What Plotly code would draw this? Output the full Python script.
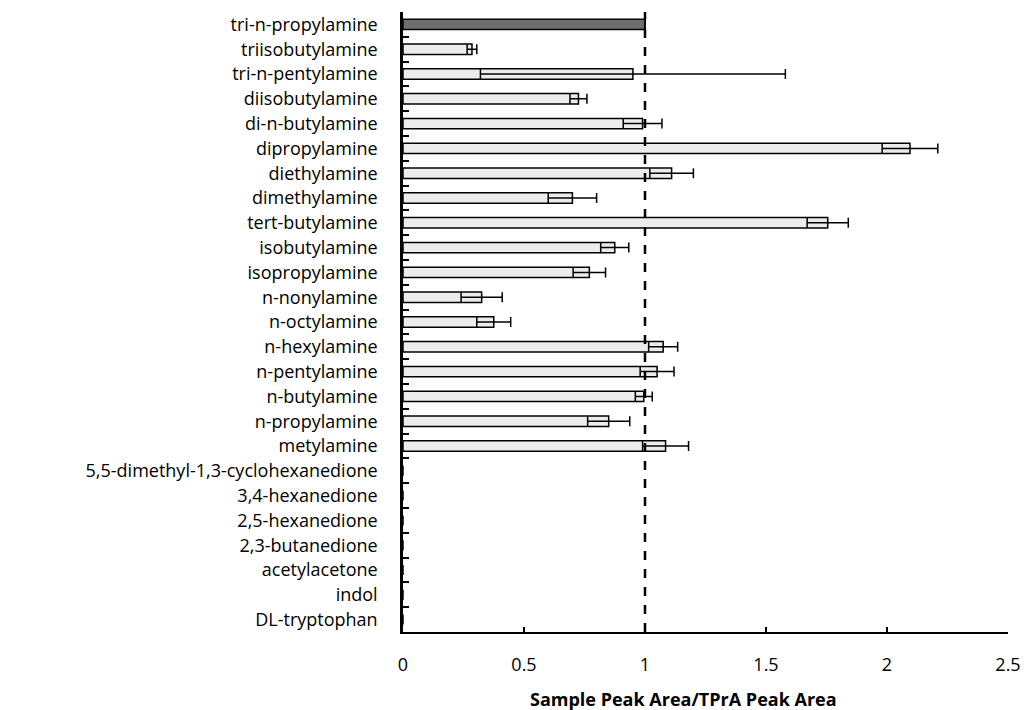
import plotly.graph_objects as go

# Compounds, listed top to bottom
compounds = [
    "tri-n-propylamine", "triisobutylamine", "tri-n-pentylamine", "diisobutylamine",
    "di-n-butylamine", "dipropylamine", "diethylamine", "dimethylamine",
    "tert-butylamine", "isobutylamine", "isopropylamine", "n-nonylamine",
    "n-octylamine", "n-hexylamine", "n-pentylamine", "n-butylamine",
    "n-propylamine", "metylamine", "5,5-dimethyl-1,3-cyclohexanedione",
    "3,4-hexanedione", "2,5-hexanedione", "2,3-butanedione", "acetylacetone",
    "indol", "DL-tryptophan",
]

# Relative peak area (sample / TPrA) and its error
ratio = [
    1.00, 0.285, 0.95, 0.725,
    0.99, 2.095, 1.11, 0.70,
    1.755, 0.875, 0.77, 0.325,
    0.375, 1.075, 1.05, 0.995,
    0.85, 1.085, 0, 0, 0, 0, 0, 0, 0,
]
error = [
    0.0, 0.02, 0.63, 0.035,
    0.08, 0.115, 0.09, 0.10,
    0.085, 0.058, 0.067, 0.085,
    0.07, 0.06, 0.07, 0.035,
    0.087, 0.095, 0, 0, 0, 0, 0, 0, 0,
]

x_ticks = [0, 0.5, 1, 1.5, 2, 2.5]
x_tick_text = ["0", "0.5", "1", "1.5", "2", "2.5"]

# Reference compound (TPrA) shown darker; no outline or whiskers where there is no signal
fills = ["#6e6e6e"] + ["#ececec"] * (len(compounds) - 1)
outline_w = [1.5 if v > 0 else 0 for v in ratio]
err_shown = [e if e > 0 else None for e in error]

fig = go.Figure()
fig.add_trace(go.Bar(
    y=compounds,
    x=ratio,
    orientation="h",
    width=0.42,
    marker=dict(color=fills, line=dict(color="black", width=outline_w)),
    error_x=dict(type="data", array=err_shown, visible=True,
                 color="black", thickness=1.5, width=5),
    showlegend=False,
))

# Reference level at ratio = 1
fig.add_shape(type="line", xref="x", yref="paper", x0=1, x1=1, y0=0, y1=1,
              line=dict(color="black", width=2.5, dash="dash"))

fig.add_annotation(
    text="<b>Sample Peak Area/TPrA Peak Area</b>",
    xref="paper", yref="paper", x=0.464, y=-0.108,
    xanchor="center", yanchor="middle", showarrow=False,
    font=dict(family="Open Sans", size=18, color="black"),
)

fig.update_layout(
    width=1025, height=710,
    margin=dict(l=403, r=17, t=12, b=78, autoexpand=False),
    paper_bgcolor="white", plot_bgcolor="white",
    font=dict(family="Open Sans", size=18, color="black"),
    bargap=0.5,
)

fig.update_xaxes(
    range=[0, 2.5], tickvals=x_ticks, ticktext=x_tick_text,
    showgrid=False, zeroline=False, automargin=False,
    showline=True, linecolor="black", linewidth=1.5,
    ticks="inside", ticklen=5, tickwidth=1.5, tickcolor="black",
    ticklabelstandoff=16,
    tickfont=dict(family="Open Sans", size=18),
)

fig.update_yaxes(
    categoryorder="array", categoryarray=compounds,
    autorange="reversed", automargin=False,
    showgrid=False, zeroline=False,
    showline=True, linecolor="black", linewidth=2.5,
    ticks="inside", tickson="boundaries", ticklen=6, tickwidth=2, tickcolor="black",
    ticklabelstandoff=19,
    tickfont=dict(family="Open Sans", size=18),
)

fig.write_html("out.html")
